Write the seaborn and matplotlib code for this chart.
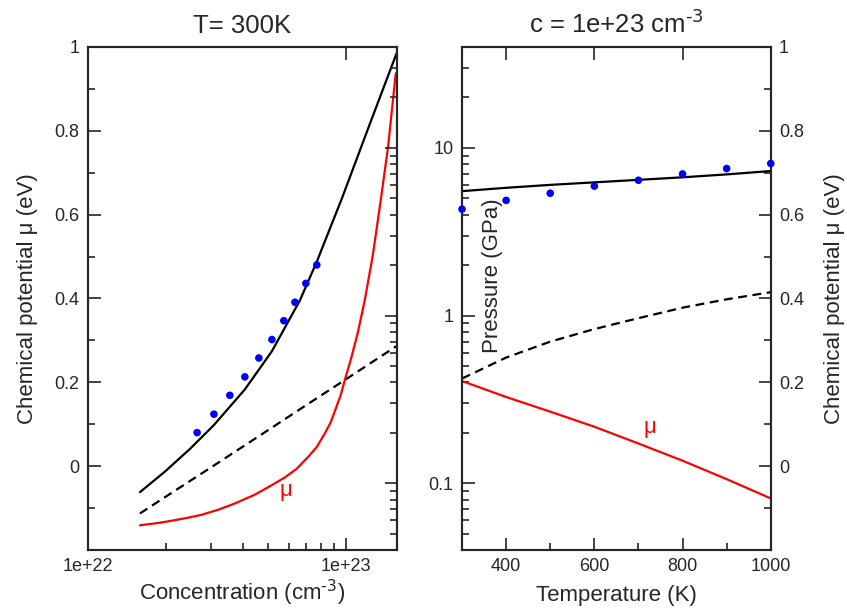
import seaborn as sns
import matplotlib.pyplot as plt
from matplotlib.ticker import (FixedLocator, MultipleLocator, LogLocator,
                               NullFormatter, FuncFormatter)

# left panel, T = 300 K : chemical potential vs concentration (cm^-3)
conc_solid = [1.591e22, 1.988e22, 2.485e22, 3.079e22, 4.060e22, 5.167e22,
              6.632e22, 7.722e22, 9.650e22, 1.239e23, 1.577e23]
mu_solid = [-0.062, -0.013, 0.041, 0.098, 0.183, 0.274,
            0.395, 0.488, 0.638, 0.816, 0.986]

conc_dash = [1.59e22, 2.0e22, 3.0e22, 5.0e22, 7.0e22, 1.0e23, 1.57e23]
mu_dash = [-0.113, -0.073, -0.003, 0.086, 0.145, 0.207, 0.286]

conc_red = [1.591e22, 1.85e22, 2.079e22, 2.40e22, 2.759e22, 3.20e22,
            3.714e22, 4.439e22, 5.075e22, 5.802e22, 6.458e22, 7.143e22,
            7.722e22, 8.291e22, 8.748e22, 9.204e22, 9.564e22, 9.911e22,
            1.050e23, 1.113e23, 1.185e23, 1.273e23, 1.367e23, 1.459e23,
            1.563e23]
mu_red = [-0.141, -0.136, -0.131, -0.124, -0.116, -0.104,
          -0.089, -0.068, -0.048, -0.027, -0.006, 0.022,
          0.046, 0.078, 0.105, 0.142, 0.170, 0.205,
          0.258, 0.318, 0.396, 0.503, 0.635, 0.762,
          0.937]

conc_dots = [2.65e22, 3.08e22, 3.55e22, 4.06e22, 4.60e22, 5.17e22, 5.75e22,
             6.35e22, 7.00e22, 7.72e22]
mu_dots = [0.080, 0.124, 0.169, 0.213, 0.258, 0.302, 0.347, 0.391, 0.436, 0.480]

# right panel, c = 1e23 cm^-3 : vs temperature (K)
temps = [300, 400, 500, 600, 700, 800, 900, 1000]
mu_solid_T = [0.656, 0.664, 0.671, 0.677, 0.683, 0.689, 0.696, 0.704]
mu_dash_T = [0.209, 0.259, 0.297, 0.327, 0.353, 0.378, 0.398, 0.415]
mu_red_T = [0.203, 0.165, 0.130, 0.094, 0.054, 0.013, -0.031, -0.077]
mu_dots_T = [0.613, 0.634, 0.651, 0.668, 0.682, 0.697, 0.710, 0.722]

mu_ticks = [0, 0.2, 0.4, 0.6, 0.8, 1.0]

sns.set_style("ticks")
plt.rcParams['font.family'] = ['Liberation Sans', 'DejaVu Sans']
plt.rcParams['mathtext.default'] = 'regular'

fig = plt.figure(figsize=(8.47, 6.13), dpi=100)
ax1 = fig.add_axes([0.1039, 0.1028, 0.3648, 0.8206])
ax2 = fig.add_axes([0.5455, 0.1028, 0.3645, 0.8206])

fmt_g = FuncFormatter(lambda v, p: f"{v:g}")


def style_ticks(ax):
    for sp in ax.spines.values():
        sp.set_linewidth(1.5)
        sp.set_visible(True)
    ax.tick_params(which='both', direction='in', width=1.2, labelsize=13, pad=6)
    ax.tick_params(which='major', length=9)
    ax.tick_params(which='minor', length=5)


def mu_axis(ax):
    ax.set_ylim(-0.2, 1.0)
    ax.yaxis.set_major_locator(FixedLocator(mu_ticks))
    ax.yaxis.set_minor_locator(MultipleLocator(0.1))
    ax.yaxis.set_major_formatter(fmt_g)


def pressure_axis(ax, labels=True):
    ax.set_yscale('log')
    ax.set_ylim(0.04, 40)
    ax.yaxis.set_major_locator(LogLocator(base=10))
    ax.yaxis.set_minor_locator(LogLocator(base=10, subs=range(2, 10)))
    ax.yaxis.set_minor_formatter(NullFormatter())
    if labels:
        ax.yaxis.set_major_formatter(fmt_g)
    else:
        ax.yaxis.set_major_formatter(NullFormatter())


# ---- left panel
sns.lineplot(x=conc_solid, y=mu_solid, ax=ax1, color='black', lw=1.6)
sns.lineplot(x=conc_dash, y=mu_dash, ax=ax1, color='black', lw=1.6,
             linestyle=(0, (4, 2.5)))
sns.lineplot(x=conc_red, y=mu_red, ax=ax1, color='red', lw=1.6)
sns.scatterplot(x=conc_dots, y=mu_dots, ax=ax1, color='blue', s=30,
                edgecolor='none', zorder=3)
ax1.set_xscale('log')
ax1.set_xlim(1e22, 1.58e23)
ax1.xaxis.set_major_locator(FixedLocator([1e22, 1e23]))
ax1.xaxis.set_minor_locator(LogLocator(base=10, subs=range(2, 10)))
ax1.xaxis.set_major_formatter(FuncFormatter(lambda v, p: f"{v:.0e}"))
ax1.xaxis.set_minor_formatter(NullFormatter())
mu_axis(ax1)
style_ticks(ax1)
ax1.tick_params(top=True)
ax1.set_xlabel("Concentration (cm$^{\\text{-3}}$)", fontsize=16, labelpad=2)
ax1.set_ylabel("Chemical potential μ (eV)", fontsize=16, labelpad=12)
ax1.set_title("T= 300K", fontsize=18.5, pad=10)
ax1.text(5.85e22, -0.057, "μ", color='red', fontsize=16, ha='center', va='center')

ax1p = ax1.twinx()
pressure_axis(ax1p, labels=False)
style_ticks(ax1p)

# ---- right panel
pressure_axis(ax2)
ax2.set_xlim(300, 1000)
ax2.xaxis.set_major_locator(MultipleLocator(200))
ax2.xaxis.set_minor_locator(MultipleLocator(100))
style_ticks(ax2)
ax2.tick_params(top=True)
ax2.set_xlabel("Temperature (K)", fontsize=16, labelpad=7)
ax2.set_title("c = 1e+23 cm$^{\\text{-3}}$", fontsize=18.5, pad=10)
ax2.text(0.098, 0.545, "Pressure (GPa)", transform=ax2.transAxes, rotation=90,
         fontsize=16, ha='center', va='center')

ax2m = ax2.twinx()
sns.lineplot(x=temps, y=mu_solid_T, ax=ax2m, color='black', lw=1.6)
sns.lineplot(x=temps, y=mu_dash_T, ax=ax2m, color='black', lw=1.6,
             linestyle=(0, (4, 2.5)))
sns.lineplot(x=temps, y=mu_red_T, ax=ax2m, color='red', lw=1.6)
sns.scatterplot(x=temps, y=mu_dots_T, ax=ax2m, color='blue', s=30,
                edgecolor='none', zorder=3, clip_on=False)
mu_axis(ax2m)
style_ticks(ax2m)
ax2m.set_ylabel("Chemical potential μ (eV)", fontsize=16, labelpad=14)
ax2m.text(726, 0.091, "μ", color='red', fontsize=16, ha='center', va='center')

fig.savefig("out.png", dpi=100)
